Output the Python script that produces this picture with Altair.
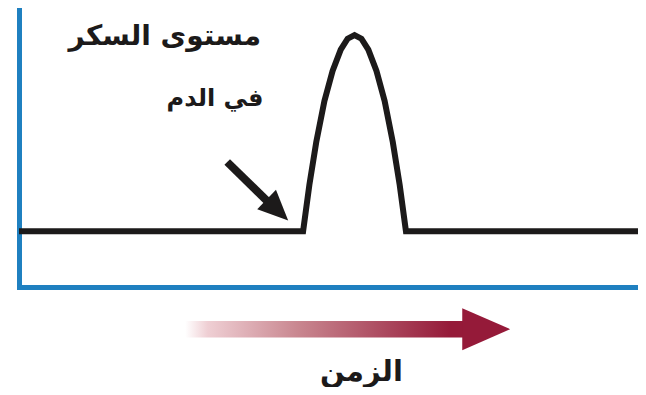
import altair as alt
import pandas as pd

# Blood sugar curve (arbitrary units): time 0-100, level 0-100
time = [0, 45.3, 46.3, 47.4, 48.7, 50.0, 51.3, 52.4, 53.5, 54.6, 55.7, 57.0, 58.3, 59.6, 60.7, 61.7, 100]
level = [20, 20, 36.6, 52.0, 66.7, 77.4, 85.1, 89.0, 90.3, 89.0, 85.1, 77.4, 66.7, 52.0, 36.6, 20, 20]

# pointer arrow (tail -> head)
ptr_t = [33.2, 40.4]
ptr_l = [44.8, 29.0]
ptr_head_t = [41.2]
ptr_head_l = [27.6]

# time arrow below the axis
time_shaft_t = [26.5]
time_shaft_t2 = [71.1]
time_shaft_l = [-12.2]
time_shaft_l2 = [-18.1]
time_head_t = [74.5]
time_head_l = [-15.1]

labels = ["مستوى السكر", "في الدم"]
label_sizes = [28, 24]
label_t = [38.6, 39.0]
label_l = [89.6, 67.3]
time_label = ["الزمن"]
time_label_t = [54.6]
time_label_l = [-30.6]

BLUE = "#1f80c0"
RED = "#951a39"
INK = "#1c1a1a"

curve = pd.DataFrame({"t": time, "l": level})
xs = alt.Scale(domain=[0, 98.7], nice=False, zero=False)
ys = alt.Scale(domain=[0, 100], nice=False, zero=False)

x_axis = alt.Axis(domainColor=BLUE, domainWidth=5, domainCap="square", ticks=False, labels=False, grid=False, title=None)
y_axis = alt.Axis(domainColor=BLUE, domainWidth=5, domainCap="square", ticks=False, labels=False, grid=False, title=None)

line = alt.Chart(curve).mark_line(color=INK, strokeWidth=6, strokeJoin="miter", strokeCap="butt").encode(
    x=alt.X("t:Q", scale=xs, axis=x_axis),
    y=alt.Y("l:Q", scale=ys, axis=y_axis),
    order="t:Q",
)

ptr = alt.Chart(pd.DataFrame({"t": ptr_t, "l": ptr_l})).mark_line(color=INK, strokeWidth=8, strokeCap="butt").encode(
    x=alt.X("t:Q", scale=xs), y=alt.Y("l:Q", scale=ys)
)
ptr_head = alt.Chart(pd.DataFrame({"t": ptr_head_t, "l": ptr_head_l})).mark_point(
    shape="M-1,-0.9L1,0L-1,0.9Z", size=900, angle=44, filled=True, color=INK, opacity=1, strokeWidth=0
).encode(x=alt.X("t:Q", scale=xs), y=alt.Y("l:Q", scale=ys))

grad = alt.Gradient(
    gradient="linear",
    stops=[
        alt.GradientStop(color="#ffffff", offset=0),
        alt.GradientStop(color="#efcfd4", offset=0.08),
        alt.GradientStop(color="#c98790", offset=0.4),
        alt.GradientStop(color=RED, offset=0.95),
        alt.GradientStop(color=RED, offset=1),
    ],
    x1=0, x2=1, y1=0, y2=0,
)
shaft = alt.Chart(pd.DataFrame({"t": time_shaft_t, "t2": time_shaft_t2, "l": time_shaft_l, "l2": time_shaft_l2})).mark_rect(
    color=grad
).encode(x=alt.X("t:Q", scale=xs), x2="t2:Q", y=alt.Y("l:Q", scale=ys), y2="l2:Q")

thead = alt.Chart(pd.DataFrame({"t": time_head_t, "l": time_head_l})).mark_point(
    shape="M-1,-0.875L1,0L-1,0.875Z", size=2304, filled=True, color=RED, opacity=1, strokeWidth=0
).encode(x=alt.X("t:Q", scale=xs), y=alt.Y("l:Q", scale=ys))

txt = alt.Chart(pd.DataFrame({"s": labels, "t": label_t, "l": label_l, "fs": label_sizes})).mark_text(
    font="DejaVu Sans", fontWeight="bold", color=INK, align="right", baseline="middle"
).encode(
    x=alt.X("t:Q", scale=xs), y=alt.Y("l:Q", scale=ys), text="s:N",
    size=alt.Size("fs:Q", scale=None, legend=None),
)

ttxt = alt.Chart(pd.DataFrame({"s": time_label, "t": time_label_t, "l": time_label_l})).mark_text(
    font="DejaVu Sans", fontWeight="bold", fontSize=29, color=INK, align="center", baseline="middle"
).encode(x=alt.X("t:Q", scale=xs), y=alt.Y("l:Q", scale=ys), text="s:N")

chart = alt.layer(line, ptr, ptr_head, shaft, thead, txt, ttxt).properties(
    width=619, height=279,
    padding={"left": 11, "top": 0, "right": 0, "bottom": 100},
    autosize=alt.AutoSizeParams(type="none"),
).configure(background="white").configure_view(strokeWidth=0, stroke=None)

chart.save("out.html", embed_options={"renderer": "svg", "actions": False})
